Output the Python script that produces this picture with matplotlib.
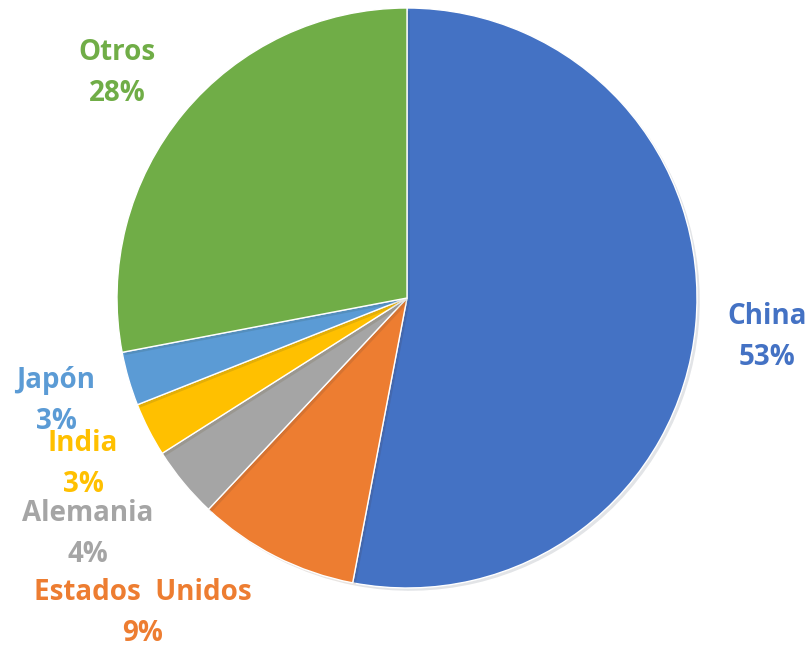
import matplotlib
matplotlib.use('Agg')
import matplotlib.pyplot as plt
import matplotlib.patheffects as pe

# data
paises = ['China', 'Estados  Unidos', 'Alemania', 'India', 'Japón', 'Otros']
porcentajes = [53, 9, 4, 3, 3, 28]
colores = ['#4472C4', '#ED7D31', '#A5A5A5', '#FFC000', '#5B9BD5', '#70AD47']

# label centres in pixels (x, y from top) for the two-line block
label_pos = [(767, 337), (143, 613), (88, 534), (83, 464), (56, 401), (117, 73)]

W, H = 810, 651
fig = plt.figure(figsize=(W / 100, H / 100), dpi=100)
ax = fig.add_axes([0, 0, 1, 1])

cx, cy, r = 407, H - 298, 290
wedges, _ = ax.pie(porcentajes, colors=colores, startangle=90, counterclock=False,
                   center=(cx, cy), radius=r, frame=True,
                   wedgeprops=dict(edgecolor='white', linewidth=1.0))
for w in wedges:
    w.set_path_effects([pe.SimplePatchShadow(offset=(2, -2), alpha=0.12), pe.Normal()])
ax.set_xlim(0, W)
ax.set_ylim(0, H)
ax.set_aspect('equal')
ax.axis('off')

for nombre, p, c, (x, y) in zip(paises, porcentajes, colores, label_pos):
    ax.text(x, H - y, '%s\n%d%%' % (nombre, p), color=c, fontsize=20,
            fontweight='bold', family='Open Sans', ha='center', va='center',
            linespacing=1.55)

fig.savefig('out.png', dpi=100)
